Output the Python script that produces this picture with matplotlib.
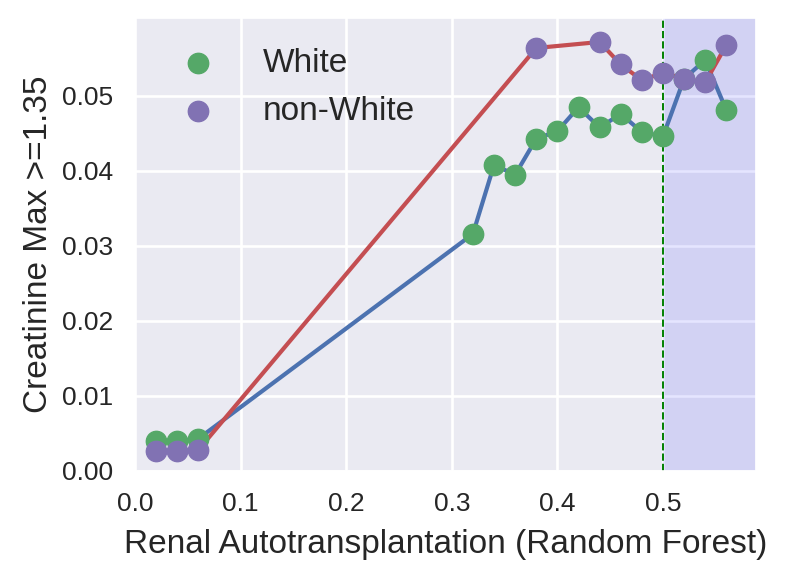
import matplotlib
matplotlib.use("Agg")
import matplotlib.pyplot as plt
import seaborn as sns

# Values
white_x = [0.02, 0.04, 0.06, 0.32, 0.34, 0.36, 0.38, 0.40, 0.42, 0.44,
           0.46, 0.48, 0.50, 0.52, 0.54, 0.56]
white_y = [0.0040, 0.0040, 0.0043, 0.0316, 0.0408, 0.0395, 0.0443, 0.0453,
           0.0485, 0.0458, 0.0476, 0.0452, 0.0446, 0.0523, 0.0548, 0.0481]

nonwhite_x = [0.02, 0.04, 0.06, 0.38, 0.44, 0.46, 0.48, 0.50, 0.52, 0.54, 0.56]
nonwhite_y = [0.0027, 0.0027, 0.0028, 0.0564, 0.0572, 0.0542, 0.0521, 0.0531,
              0.0523, 0.0518, 0.0568]

threshold = 0.5

sns.set_theme(style="darkgrid")
plt.rcParams['font.family'] = ['Liberation Sans', 'DejaVu Sans']
plt.rcParams['grid.linewidth'] = 1.9

deep = sns.color_palette("deep")

fig = plt.figure(figsize=(7.87, 5.8), dpi=100)
ax = fig.add_axes([0.1715, 0.188, 0.789, 0.781])

ax.plot(white_x, white_y, color=deep[0], linewidth=3.0, zorder=3)
ax.plot(nonwhite_x, nonwhite_y, color=deep[3], linewidth=3.0, zorder=3)
ax.scatter(white_x, white_y, s=215, color=deep[2], label='White', zorder=4)
ax.scatter(nonwhite_x, nonwhite_y, s=215, color=deep[4], label='non-White', zorder=5)

ax.axvline(threshold, color='green', linestyle='--', linewidth=1.4, zorder=2)
ax.axvspan(threshold, 0.7, color='blue', alpha=0.1, linewidth=0, zorder=1)

ax.set_xlim(0, 0.588)
ax.set_ylim(0, 0.0604)
ax.set_xticks([0.0, 0.1, 0.2, 0.3, 0.4, 0.5])
ax.set_yticks([0.00, 0.01, 0.02, 0.03, 0.04, 0.05])
ax.tick_params(labelsize=19, pad=9.5)

ax.set_xlabel('Renal Autotransplantation (Random Forest)', fontsize=24, labelpad=9)
ax.set_ylabel('Creatinine Max >=1.35', fontsize=24, labelpad=6)

ax.legend(loc='upper left', fontsize=24, frameon=False, handletextpad=0.95,
          borderaxespad=0.3, bbox_to_anchor=(0.01, 0.985))

fig.savefig('out.png', dpi=100)
